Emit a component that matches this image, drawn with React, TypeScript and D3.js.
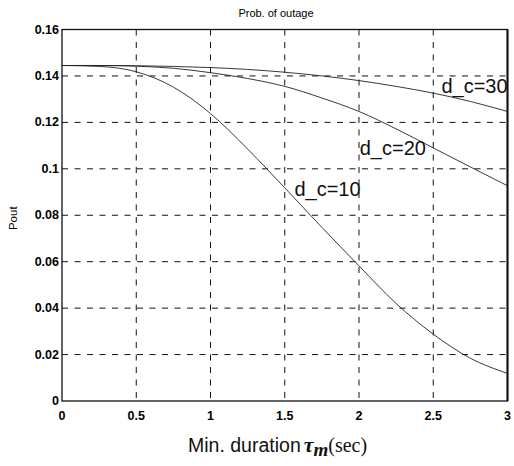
import React, { useEffect, useRef } from "react";
import * as d3 from "d3";

// minimum duration (sec)
const tau = [0, 0.25, 0.5, 0.75, 1, 1.25, 1.5, 1.75, 2, 2.25, 2.5, 2.75, 3];
// outage probability per d_c
const pout10 = [0.1445, 0.1441, 0.1418, 0.1352, 0.1238, 0.1085, 0.0918, 0.0748, 0.0582, 0.042, 0.0288, 0.0184, 0.0119];
const pout20 = [0.1445, 0.1445, 0.1442, 0.1433, 0.1414, 0.1389, 0.1355, 0.1305, 0.1247, 0.1172, 0.109, 0.1008, 0.0927];
const pout30 = [0.1445, 0.1445, 0.1444, 0.1441, 0.1436, 0.1428, 0.1416, 0.14, 0.138, 0.1355, 0.1326, 0.129, 0.1247];

const xTicks = [0, 0.5, 1, 1.5, 2, 2.5, 3];
const yTicks = [0, 0.02, 0.04, 0.06, 0.08, 0.1, 0.12, 0.14, 0.16];

const curveLabels = [
  { text: "d_c=30", x: 2.555, y: 0.1328 },
  { text: "d_c=20", x: 2.005, y: 0.106 },
  { text: "d_c=10", x: 1.565, y: 0.0884 },
];

const W = 514;
const H = 466;
const left = 62, right = 507.5, top = 29.5, bottom = 401;

const App = () => {
  const svgRef = useRef<SVGSVGElement>(null);

  useEffect(() => {
    const svg = d3.select(svgRef.current);
    svg.selectAll("*").remove();

    const x = d3.scaleLinear().domain([0, 3]).range([left, right]);
    const y = d3.scaleLinear().domain([0, 0.16]).range([bottom, top]);

    const g = svg.append("g");

    // dashed grid
    g.selectAll("line.gx")
      .data(xTicks.slice(1, -1))
      .enter().append("line")
      .attr("x1", d => x(d)).attr("x2", d => x(d))
      .attr("y1", top).attr("y2", bottom)
      .attr("stroke", "#111").attr("stroke-width", 1)
      .attr("stroke-dasharray", "6,6.5");
    g.selectAll("line.gy")
      .data(yTicks.slice(1, -1))
      .enter().append("line")
      .attr("x1", left).attr("x2", right)
      .attr("y1", d => y(d)).attr("y2", d => y(d))
      .attr("stroke", "#111").attr("stroke-width", 1)
      .attr("stroke-dasharray", "6,6.5");

    // curves
    const line = d3.line<number>()
      .x((d, i) => x(tau[i]))
      .y(d => y(d))
      .curve(d3.curveMonotoneX);
    [pout10, pout20, pout30].forEach(s => {
      g.append("path")
        .attr("d", line(s))
        .attr("fill", "none")
        .attr("stroke", "#222")
        .attr("stroke-width", 0.9);
    });

    // frame
    g.append("rect")
      .attr("x", left).attr("y", top)
      .attr("width", right - left).attr("height", bottom - top)
      .attr("fill", "none").attr("stroke", "#111").attr("stroke-width", 1.3);
    g.append("line")
      .attr("x1", right).attr("x2", right).attr("y1", top).attr("y2", bottom)
      .attr("stroke", "#111").attr("stroke-width", 2);

    // tick labels
    g.selectAll("text.xt")
      .data(xTicks)
      .enter().append("text")
      .attr("x", d => x(d))
      .attr("y", bottom + 19)
      .attr("text-anchor", "middle")
      .attr("font-family", "Liberation Sans, Arial, sans-serif")
      .attr("font-size", 12.5)
      .attr("font-weight", "bold")
      .text(d => String(d));
    g.selectAll("text.yt")
      .data(yTicks)
      .enter().append("text")
      .attr("x", left - 3)
      .attr("y", d => y(d) + 4)
      .attr("text-anchor", "end")
      .attr("font-family", "Liberation Sans, Arial, sans-serif")
      .attr("font-size", 12.5)
      .attr("font-weight", "bold")
      .text(d => String(d));

    // curve labels
    g.selectAll("text.cl")
      .data(curveLabels)
      .enter().append("text")
      .attr("x", d => x(d.x))
      .attr("y", d => y(d.y))
      .attr("font-family", "Liberation Sans, Arial, sans-serif")
      .attr("font-size", 20)
      .attr("fill", "#111")
      .text(d => d.text);

    // title
    g.append("text")
      .attr("x", 276).attr("y", 17)
      .attr("text-anchor", "middle")
      .attr("font-family", "Liberation Sans, Arial, sans-serif")
      .attr("font-size", 11)
      .text("Prob. of outage");

    // y label
    g.append("text")
      .attr("transform", `translate(17,${(top + bottom) / 2 + 3}) rotate(-90)`)
      .attr("text-anchor", "middle")
      .attr("font-family", "Liberation Sans, Arial, sans-serif")
      .attr("font-size", 11.5)
      .text("Pout");

    // x label
    const xl = g.append("text")
      .attr("x", 188).attr("y", 452)
      .attr("fill", "#111");
    xl.append("tspan")
      .attr("font-family", "Liberation Sans, Arial, sans-serif")
      .attr("font-size", 19.5)
      .text("Min. duration");
    xl.append("tspan")
      .attr("font-family", "Liberation Serif, serif")
      .attr("font-style", "italic")
      .attr("font-weight", "bold")
      .attr("font-size", 22)
      .attr("dx", 3)
      .text("τ");
    xl.append("tspan")
      .attr("font-family", "Liberation Serif, serif")
      .attr("font-style", "italic")
      .attr("font-weight", "bold")
      .attr("font-size", 19)
      .attr("dy", 4)
      .text("m");
    xl.append("tspan")
      .attr("font-family", "Liberation Serif, serif")
      .attr("font-size", 20)
      .attr("dy", -4)
      .text("(sec)");
  }, []);

  return (
    <div style={{ position: "fixed", left: 0, top: 0 }}>
      <svg ref={svgRef} width={W} height={H} style={{ display: "block", background: "#fff" }} />
    </div>
  );
};

export default App;
